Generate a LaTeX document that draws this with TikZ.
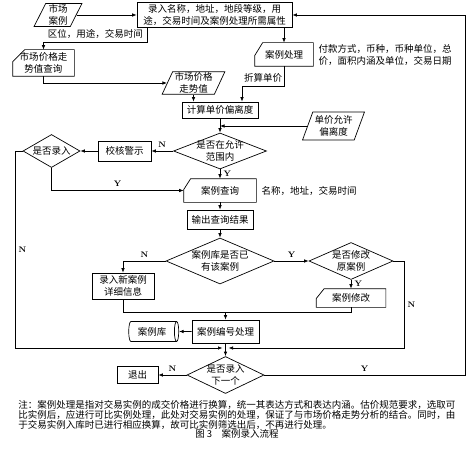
\documentclass[tikz,border=0pt]{standalone}
\usepackage{fontspec}
\newfontfamily\cjk{Noto Sans CJK SC}
\usetikzlibrary{shapes,arrows.meta}

% card outline with the top left corner cut off
\newcommand\cardpath[3]{\draw (#1.north east) -- (#1.south east) -- (#1.south west) -- ([yshift=-#3]#1.north west) -- ([xshift=#2]#1.north west) -- cycle;}

\begin{document}
\begin{tikzpicture}
[
x=1pt, y=-1pt, line width=0.7pt,
>={Latex[length=4.5pt,width=3.5pt]},
every node/.style={font=\cjk\fontsize{9.5}{11.5}\selectfont, align=center}
]
\tikzset{box/.style={draw, rectangle, inner sep=1pt},
iobox/.style={draw, trapezium, trapezium left angle=66, trapezium right angle=114, trapezium stretches=true, inner sep=1pt},
card/.style={rectangle, inner sep=1pt},
choice/.style={draw, diamond, inner sep=-2pt},
yn/.style={font=\bfseries\footnotesize},
memo/.style={anchor=west, align=left}}
\useasboundingbox (0,0) rectangle (473,457);

\node[iobox, minimum width=48pt, minimum height=23pt] (scal) at (58,15) {市场\\案例};
\node[box, minimum width=155pt, minimum height=25pt] (luru) at (214.5,15) {录入名称，地址，地段等级，用\\途，交易时间及案例处理所需属性};
\node[card, minimum width=61pt, minimum height=26pt] (zscx) at (43.5,63) {市场价格走\\势值查询};
\node[iobox, minimum width=63pt, minimum height=22pt] (zsz) at (193.5,83) {市场价格\\走势值};
\node[card, minimum width=58pt, minimum height=23pt] (alcl) at (284,54.5) {案例处理};
\node[memo] (fkfs) at (315,55) {付款方式，币种，币种单位，总\\价，面积内涵及单位，交易日期};
\node[box, minimum width=76pt, minimum height=16pt] (jisuan) at (220,110) {计算单价偏离度};
\node[iobox, minimum width=62pt, minimum height=28pt] (yxpl) at (333.5,126) {单价允许\\偏离度};
\node[choice, aspect=2.6, minimum width=93pt, minimum height=36pt] (fwn) at (220,151) {是否在允许\\范围内};
\node[box, minimum width=53pt, minimum height=20pt] (jhjs) at (124.5,151) {校核警示};
\node[choice, aspect=1.7, minimum width=57pt, minimum height=33pt] (sflr) at (51.5,151) {是否录入};
\node[card, minimum width=72pt, minimum height=23pt] (alcx) at (220,190.5) {案例查询};
\node[memo] (mcdz) at (258,190.5) {名称，地址，交易时间};
\node[box, minimum width=66pt, minimum height=19pt] (sccx) at (220,219.5) {输出查询结果};
\node[choice, aspect=2.35, minimum width=108pt, minimum height=46pt] (ygal) at (220,261) {案例库是否已\\有该案例};
\node[box, minimum width=62pt, minimum height=26pt] (lrxal) at (123,286) {录入新案例\\详细信息};
\node[choice, aspect=2.27, minimum width=84pt, minimum height=37pt] (xgal) at (351,261) {是否修改\\原案例};
\node[card, minimum width=69pt, minimum height=18pt] (alxg) at (351,298) {案例修改};
\node[box, minimum width=67pt, minimum height=23pt] (bhcl) at (225.5,331.5) {案例编号处理};
\node[draw, cylinder, minimum width=20pt, minimum height=50pt, aspect=0.4, inner sep=1pt] (alk) at (152,331.5) {案例库};
\node[choice, aspect=2.1, minimum width=77pt, minimum height=37pt] (xyg) at (225.5,375) {是否录入\\下一个};
\node[box, minimum width=41pt, minimum height=17pt] (tc) at (137.5,375) {退出};

\cardpath{zscx}{12pt}{12pt}
\cardpath{alcl}{8pt}{13pt}
\cardpath{alcx}{7pt}{11pt}
\cardpath{alxg}{8pt}{10pt}

\coordinate (c1) at (147,42);
\coordinate (c2) at (242,86);
\coordinate (c3) at (15,348);
\coordinate (c4) at (225.5,312);
\coordinate (c5) at (404,348);
\coordinate (c6) at (465,15);
\coordinate (hb) at (225.5,348);

\draw[->] (scal.east) -- (scal.east -| luru.west);
\draw[->] (c1 |- luru.south) -- (c1) -- node[above]{区位，用途，交易时间} (c1 -| zscx.north) -- (zscx.north);
\draw[->] (zscx.south) |- (zsz.west);
\draw[->] (zsz.south) -- (zsz.south |- jisuan.north);
\draw[->] (luru.south -| alcl.north) -- (alcl.north);
\draw[->] (alcl.south) -- (alcl.south |- c2) -- node[above]{折算单价} (c2) -- (c2 |- jisuan.north);
\draw[->] (jisuan) -- (fwn);
\draw[->] (yxpl.west) -- (yxpl.west -| jisuan.south);
\draw[->] (fwn) -- node[yn, above]{N} (jhjs);
\draw[->] (jhjs) -- (sflr);
\draw[->] (sflr.west) -| node[yn, pos=0.75, right]{N} (c3) -- ([xshift=-3pt]hb);
\draw[->] (sflr.south) |- node[yn, pos=0.75, above]{Y} (alcx.west);
\draw[->] (fwn) -- node[yn, right]{Y} (alcx);
\draw[->] (alcx) -- (sccx);
\draw[->] (sccx) -- (ygal);
\draw[->] (ygal.west) -| node[yn, pos=0.25, above]{N} (lrxal.north);
\draw[->] (ygal) -- node[yn, above]{Y} (xgal);
\draw[->] (xgal) -- node[yn, right]{Y} (alxg);
\draw (lrxal.south) |- (c4);
\draw (alxg.south) |- (c4);
\draw[->] (c4) -- (bhcl);
\draw[->] (xgal.east) -| node[yn, pos=0.75, right]{N} (c5) -- ([xshift=3pt]hb);
\draw[->] (bhcl) -- (alk);
\draw[->] (bhcl) -- (xyg);
\draw[->] (xyg) -- node[yn, above]{N} (tc);
\draw[->] (xyg.east) -| node[yn, pos=0.25, above]{Y} (c6) -- (luru.east);

\node[anchor=north west, align=left, inner sep=0pt, font=\cjk\fontsize{9.5}{10}\selectfont] (zhu) at (18,400) {注：案例处理是指对交易实例的成交价格进行换算，统一其表达方式和表达内涵。估价规范要求，选取可\\比实例后，应进行可比实例处理，此处对交易实例的处理，保证了与市场价格走势分析的结合。同时，由\\于交易实例入库时已进行相应换算，故可比实例筛选出后，不再进行处理。};
\node[inner sep=0pt] (tu) at (237,434) {图 3\quad 案例录入流程};
\end{tikzpicture}
\end{document}
